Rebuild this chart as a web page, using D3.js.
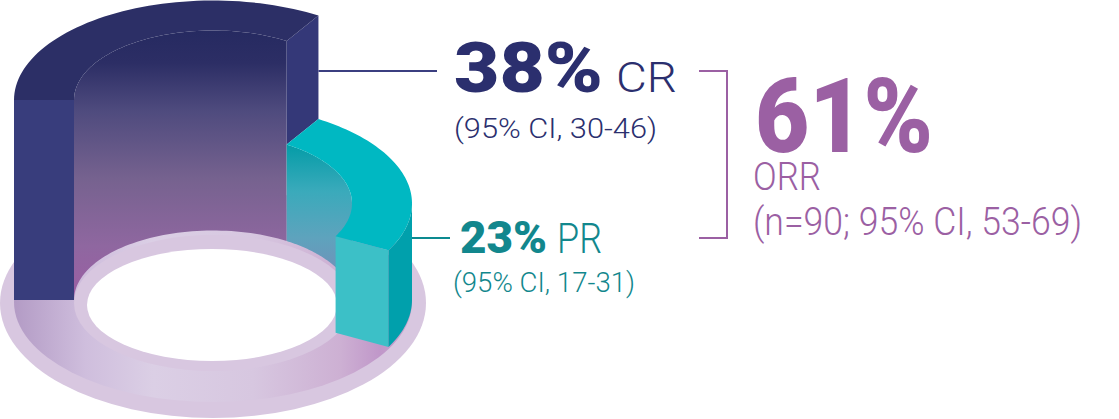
<!DOCTYPE html>
<html lang="en">
<head>
<meta charset="utf-8" />
<script src="https://d3js.org/d3.v7.min.js"></script>
<style>
  html, body { margin: 0; padding: 0; background: #fff; }
  svg#ring-chart { display: block; }
  .big { font-family: Roboto, sans-serif; font-weight: 900; }
  .thin { font-family: Roboto, sans-serif; font-weight: 300; }
</style>
</head>
<body>
<svg id="ring-chart" width="1119" height="419"></svg>
<script>
const categories = ["CR", "PR"];
const values = [38, 23];
const ciLabels = ["(95% CI, 30-46)", "(95% CI, 17-31)"];
const totalValue = 61;
const totalLabel = "ORR";
const totalCi = "(n=90; 95% CI, 53-69)";

const svg = d3.select("#ring-chart");
const defs = svg.append("defs");

// ring geometry (oblique view)
const cx = 213, cy = 300, R = 199, r = 139, tilt = 0.5;
const startAngle = 180;

let height = d3.scaleLinear().domain([9, 38]).range([0, 200]);
let sweep = d3.scaleLinear().domain([-13, 38]).range([0, 122]);

function proj(rad, deg, h) {
  let a = deg * Math.PI / 180;
  return [cx + rad * Math.cos(a), cy - h - tilt * rad * Math.sin(a)];
}
function arc(rad, a0, a1, h) {
  return d3.range(0, 61).map(i => proj(rad, a0 + (a1 - a0) * i / 60, h));
}
let line = d3.line();
function poly(pts) { return line(pts) + "Z"; }

let a = startAngle;
let blocks = values.map(function (v, i) {
  let b = { name: categories[i], value: v, a0: a, a1: a - sweep(v), h: height(v) };
  a = b.a1;
  return b;
});

let palette = {
  CR: { top: "#2c2f66", side: "#383d7c", outer: "#343878",
        inner: [[0, "#262a61"], [0.12, "#2c2e65"], [0.3, "#4f4b7e"], [0.55, "#76628f"], [0.8, "#8f67a0"], [1, "#9c5ea4"]] },
  PR: { top: "#00b8c2", side: "#3cc0c7", outer: "#00a0ac",
        inner: [[0, "#049ca7"], [0.3, "#3aaabb"], [0.6, "#5ea3bd"], [1, "#7f84b6"]] }
};

// gradients
let track = defs.append("linearGradient").attr("id", "track")
  .attr("gradientUnits", "userSpaceOnUse")
  .attr("x1", cx - R).attr("x2", cx + R).attr("y1", 0).attr("y2", 0);
[[0, "#b39bc5"], [0.18, "#cfbedd"], [0.35, "#dbcfe5"], [0.6, "#d7c7e0"], [0.82, "#cdb0d3"], [0.92, "#c097c9"], [1, "#c8a6cf"]]
  .forEach(s => track.append("stop").attr("offset", s[0]).attr("stop-color", s[1]));

blocks.forEach(function (b) {
  let topY = d3.min(arc(r, b.a0, b.a1, b.h), p => p[1]);
  let g = defs.append("linearGradient").attr("id", "inner-" + b.name)
    .attr("gradientUnits", "userSpaceOnUse")
    .attr("x1", 0).attr("x2", 0).attr("y1", topY).attr("y2", cy);
  palette[b.name].inner.forEach(s => g.append("stop").attr("offset", s[0]).attr("stop-color", s[1]));
});

// base plate
let base = svg.append("g").attr("id", "base");
base.append("ellipse").attr("cx", cx).attr("cy", cy + 3).attr("rx", R + 14).attr("ry", 115).attr("fill", "#d8c7e0");
base.append("ellipse").attr("cx", cx).attr("cy", cy + 2).attr("rx", R).attr("ry", 100).attr("fill", "url(#track)");
base.append("ellipse").attr("cx", cx).attr("cy", cy + 3).attr("rx", r).attr("ry", 68).attr("fill", "#d8c7e0");
base.append("ellipse").attr("cx", cx - 1).attr("cy", cy + 5).attr("rx", r - 14).attr("ry", 56).attr("fill", "#ffffff");

// inner walls (back half)
let walls = svg.append("g").attr("id", "walls");
blocks.forEach(function (b) {
  let hi = Math.min(b.a0, 180), lo = Math.max(b.a1, 0);
  if (hi <= lo) return;
  walls.append("path")
    .attr("d", poly(arc(r, hi, lo, b.h).concat(arc(r, lo, hi, 0))))
    .attr("fill", "url(#inner-" + b.name + ")");
});

// blocks
let solids = svg.append("g").attr("id", "blocks");
blocks.forEach(function (b, i) {
  let c = palette[b.name];
  let toRad = d => d * Math.PI / 180;
  // start face
  if (i === 0 && Math.cos(toRad(b.a0)) < 0) {
    solids.append("path")
      .attr("d", poly([proj(R, b.a0, b.h), proj(r, b.a0, b.h), proj(r, b.a0, 0), proj(R, b.a0, 0)]))
      .attr("fill", c.side);
  }
  // end face
  let next = blocks[i + 1];
  let hEnd = next ? next.h : 0;
  if (Math.cos(toRad(b.a1)) > 0) {
    solids.append("path")
      .attr("d", poly([proj(r, b.a1, b.h), proj(R, b.a1, b.h), proj(R, b.a1, hEnd), proj(r, b.a1, hEnd)]))
      .attr("fill", next ? c.outer : c.side);
  }
  // top face
  solids.append("path")
    .attr("d", poly(arc(R, b.a0, b.a1, b.h).concat(arc(r, b.a1, b.a0, b.h))))
    .attr("fill", c.top);
  // outer wall (front half)
  let hi = Math.min(b.a0, 0), lo = Math.max(b.a1, -180);
  if (hi > lo) {
    solids.append("path")
      .attr("d", poly(arc(R, hi, lo, b.h).concat(arc(R, lo, hi, 0))))
      .attr("fill", c.outer);
  }
});

// leader lines + labels
let labelRows = [
  { y: 71, lineEnd: 437, x: 454, base: 92, bigSize: 71, bigW: 149, nameX: 616, nameW: 61,
    ciX: 454, ciY: 138, ciW: 203, color: "#2b2f6e", lineColor: "#3b3f80" },
  { y: 238, lineEnd: 450, x: 460, base: 253, bigSize: 44, bigW: 87, nameX: 557, nameW: 45,
    ciX: 453, ciY: 292, ciW: 182, color: "#12878d", lineColor: "#0c8a90" }
];
let labels = svg.append("g").attr("id", "labels");
blocks.forEach(function (b, i) {
  let row = labelRows[i];
  let outerX = d3.max(arc(R, b.a0, b.a1, b.h), p => p[0]);
  labels.append("line")
    .attr("x1", outerX).attr("x2", row.lineEnd)
    .attr("y1", row.y).attr("y2", row.y)
    .attr("stroke", row.lineColor).attr("stroke-width", 2);
  labels.append("text").attr("class", "big")
    .attr("x", row.x).attr("y", row.base)
    .attr("font-size", row.bigSize).attr("fill", row.color)
    .attr("textLength", row.bigW).attr("lengthAdjust", "spacingAndGlyphs")
    .text(b.value + "%");
  labels.append("text").attr("class", "thin")
    .attr("x", row.nameX).attr("y", row.base)
    .attr("font-size", 42).attr("fill", row.color)
    .attr("textLength", row.nameW).attr("lengthAdjust", "spacingAndGlyphs")
    .text(b.name);
  labels.append("text").attr("class", "thin")
    .attr("x", row.ciX).attr("y", row.ciY)
    .attr("font-size", 28).attr("fill", row.color)
    .attr("textLength", row.ciW).attr("lengthAdjust", "spacingAndGlyphs")
    .text(ciLabels[i]);
});

// ORR bracket
let purple = "#9b60a3";
labels.append("path")
  .attr("d", "M699,71H727V238H699")
  .attr("fill", "none").attr("stroke", purple).attr("stroke-width", 2);
labels.append("text").attr("class", "big")
  .attr("x", 755).attr("y", 152).attr("font-size", 104).attr("fill", purple)
  .attr("textLength", 178).attr("lengthAdjust", "spacingAndGlyphs")
  .text(totalValue + "%");
labels.append("text").attr("class", "thin")
  .attr("x", 753).attr("y", 190).attr("font-size", 38).attr("fill", purple)
  .attr("textLength", 68).attr("lengthAdjust", "spacingAndGlyphs")
  .text(totalLabel);
labels.append("text").attr("class", "thin")
  .attr("x", 753).attr("y", 235).attr("font-size", 38).attr("fill", purple)
  .attr("textLength", 329).attr("lengthAdjust", "spacingAndGlyphs")
  .text(totalCi);
</script>
</body>
</html>
